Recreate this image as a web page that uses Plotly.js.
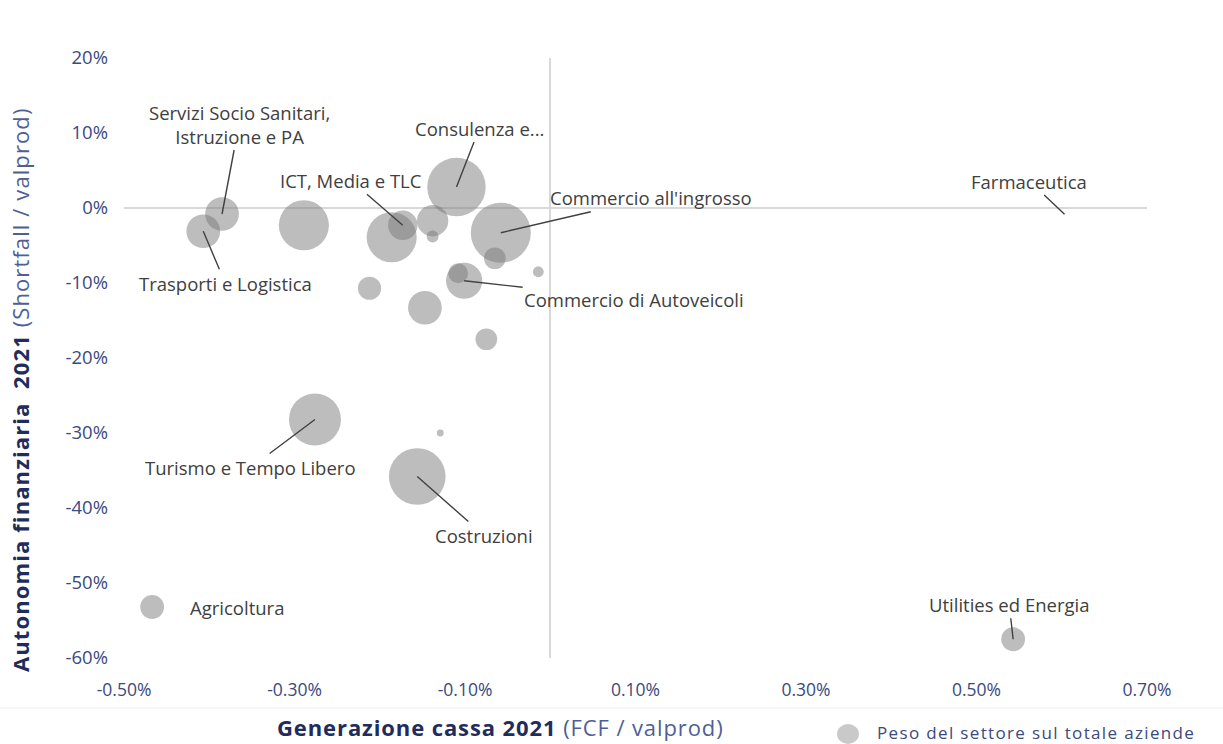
<!DOCTYPE html>
<html>
<head>
<meta charset="utf-8">
<script src="https://cdn.plot.ly/plotly-3.0.1.min.js"></script>
<style>
  html, body { margin: 0; padding: 0; background: #ffffff; }
  #chart { width: 1223px; height: 744px; }
</style>
</head>
<body>
<div id="chart"></div>
<script>
// ---- Data ----
// x: Generazione cassa 2021 (FCF / valprod), in %
// y: Autonomia finanziaria 2021 (Shortfall / valprod), in %
// w: Peso del settore sul totale aziende (bubble area)
const sectorNames = [
  "Servizi Socio Sanitari,<br>Istruzione e PA",
  "Trasporti e Logistica",
  "",
  "",
  "ICT, Media e TLC",
  "",
  "",
  "Consulenza e...",
  "Commercio all'ingrosso",
  "",
  "",
  "Commercio di Autoveicoli",
  "",
  "",
  "",
  "",
  "Turismo e Tempo Libero",
  "",
  "Costruzioni",
  "Agricoltura",
  "Utilities ed Energia",
  "Farmaceutica"
];
const fcfValues = [
  -0.385, -0.407, -0.289, -0.186, -0.173, -0.138, -0.138, -0.110, -0.058, -0.065,
  -0.014, -0.101, -0.108, -0.212, -0.147, -0.075, -0.276, -0.129, -0.156, -0.467,
  0.543, 0.603
];
const shortfallValues = [
  -0.8, -3.1, -2.3, -3.9, -2.3, -1.7, -3.8, 2.8, -3.3, -6.7,
  -8.5, -9.7, -8.7, -10.7, -13.3, -17.5, -28.2, -30.0, -35.8, -53.2,
  -57.5, -0.8
];
const sectorWeights = [
  2.9, 2.9, 6.4, 6.4, 2.2, 2.5, 0.36, 8.7, 9.2, 1.2,
  0.3, 3.35, 1.0, 1.37, 2.9, 1.2, 6.9, 0.12, 8.2, 1.44,
  1.44, 0.01
];
const xTickVals = [-0.5, -0.3, -0.1, 0.1, 0.3, 0.5, 0.7];
const xTickText = ["-0.50%", "-0.30%", "-0.10%", "0.10%", "0.30%", "0.50%", "0.70%"];
const yTickVals = [20, 10, 0, -10, -20, -30, -40, -50, -60];
const yTickText = ["20%", "10%", "0%", "-10%", "-20%", "-30%", "-40%", "-50%", "-60%"];
const legendName = "Peso del settore sul totale aziende";

// ---- Label placement (pixel offsets of label centre from its bubble) ----
const labelOffsets = {
  "Servizi Socio Sanitari,<br>Istruzione e PA": [17, -90],
  "Trasporti e Logistica": [22, 52],
  "ICT, Media e TLC": [-52, -45],
  "Consulenza e...": [23, -59],
  "Commercio all'ingrosso": [150, -35],
  "Commercio di Autoveicoli": [170, 19],
  "Turismo e Tempo Libero": [-64, 48],
  "Costruzioni": [67, 59],
  "Agricoltura": [85, 0, "noarrow"],
  "Utilities ed Energia": [-4, -35],
  "Farmaceutica": [-35, -33]
};

const FONT = "'Open Sans', 'Noto Sans', sans-serif";
const NAVY = "#3b4a7d";
const DARKNAVY = "#1f2c5c";
const LABEL = "#404040";
const L = 124, R = 76, T = 58, B = 86;
const PW = 1223 - L - R, PH = 744 - T - B;

const trace = {
  type: "scatter",
  mode: "markers",
  x: fcfValues,
  y: shortfallValues,
  name: legendName,
  text: sectorNames,
  hoverinfo: "x+y",
  marker: {
    size: sectorWeights,
    sizemode: "area",
    sizeref: 0.0051,
    sizemin: 0,
    color: "rgba(120,120,120,0.7)",
    line: { width: 0 }
  },
  showlegend: false
};

const annotations = [];
sectorNames.forEach((name, i) => {
  if (!name) return;
  const off = labelOffsets[name];
  if (off[2] === "noarrow") {
    annotations.push({
      x: fcfValues[i], y: shortfallValues[i], xref: "x", yref: "y",
      text: name, showarrow: false, xshift: off[0], yshift: -off[1],
      font: { family: FONT, size: 18.5, color: LABEL }
    });
  } else {
    annotations.push({
      x: fcfValues[i], y: shortfallValues[i], xref: "x", yref: "y",
      text: name, showarrow: true, arrowhead: 0, arrowwidth: 1.4,
      arrowcolor: "#404040", ax: off[0], ay: off[1], standoff: 0,
      font: { family: FONT, size: 18.5, color: LABEL }
    });
  }
});

// Axis titles as annotations (placed like the reference)
annotations.push({
  xref: "paper", yref: "paper", x: (500 - L) / PW, y: -(727 - (T + PH)) / PH,
  xanchor: "center", yanchor: "middle", showarrow: false,
  text: "<span style='letter-spacing:0.9px'><b>Generazione cassa 2021</b> <span style='color:#4f5f95'>(FCF / valprod)</span></span>",
  font: { family: FONT, size: 22, color: DARKNAVY }
});
annotations.push({
  xref: "paper", yref: "paper", x: -(L - 20) / PW, y: ((T + PH) - 390) / PH,
  xanchor: "center", yanchor: "middle", showarrow: false, textangle: -90,
  text: "<span style='letter-spacing:1.1px'><b>Autonomia finanziaria  2021</b> <span style='color:#4f5f95'>(Shortfall / valprod)</span></span>",
  font: { family: FONT, size: 22, color: DARKNAVY }
});
// Legend (drawn as symbol + text)
annotations.push({
  xref: "paper", yref: "paper", x: (876 - L) / PW, y: -(732 - (T + PH)) / PH,
  xanchor: "left", yanchor: "middle", showarrow: false, borderpad: 0,
  text: "<span style='letter-spacing:1.35px'>" + legendName + "</span>",
  font: { family: FONT, size: 17, color: NAVY }
});

const legendCx = (848 - L) / PW, legendCy = -(734 - (T + PH)) / PH;
const layout = {
  width: 1223,
  height: 744,
  margin: { l: L, r: R, t: T, b: B, autoexpand: false },
  paper_bgcolor: "#ffffff",
  plot_bgcolor: "#ffffff",
  font: { family: FONT, color: NAVY },
  xaxis: {
    range: [-0.5, 0.7],
    tickvals: xTickVals,
    ticktext: xTickText,
    showgrid: false,
    zeroline: true,
    zerolinecolor: "#d9d9d9",
    zerolinewidth: 2,
    showline: false,
    ticks: "",
    ticklabelstandoff: 19,
    tickfont: { family: FONT, size: 17.5, color: NAVY },
    automargin: false,
    fixedrange: true
  },
  yaxis: {
    range: [-60, 20],
    tickvals: yTickVals,
    ticktext: yTickText,
    showgrid: false,
    zeroline: true,
    zerolinecolor: "#d9d9d9",
    zerolinewidth: 2,
    showline: false,
    ticks: "",
    ticklabelstandoff: 15,
    tickfont: { family: FONT, size: 18.5, color: NAVY },
    automargin: false,
    fixedrange: true
  },
  showlegend: false,
  shapes: [
    { type: "line", xref: "paper", yref: "paper", x0: -L / PW, x1: 1 + R / PW,
      y0: -(708 - (T + PH)) / PH, y1: -(708 - (T + PH)) / PH,
      line: { color: "#eeeeee", width: 1 } },
    { type: "circle", xref: "paper", yref: "paper",
      x0: legendCx - 11 / PW, x1: legendCx + 11 / PW,
      y0: legendCy - 10 / PH, y1: legendCy + 10 / PH,
      fillcolor: "#c9c9c9", line: { width: 0 } }
  ],
  annotations: annotations
};

Plotly.newPlot("chart", [trace], layout, { displayModeBar: false, staticPlot: true });
</script>
</body>
</html>
